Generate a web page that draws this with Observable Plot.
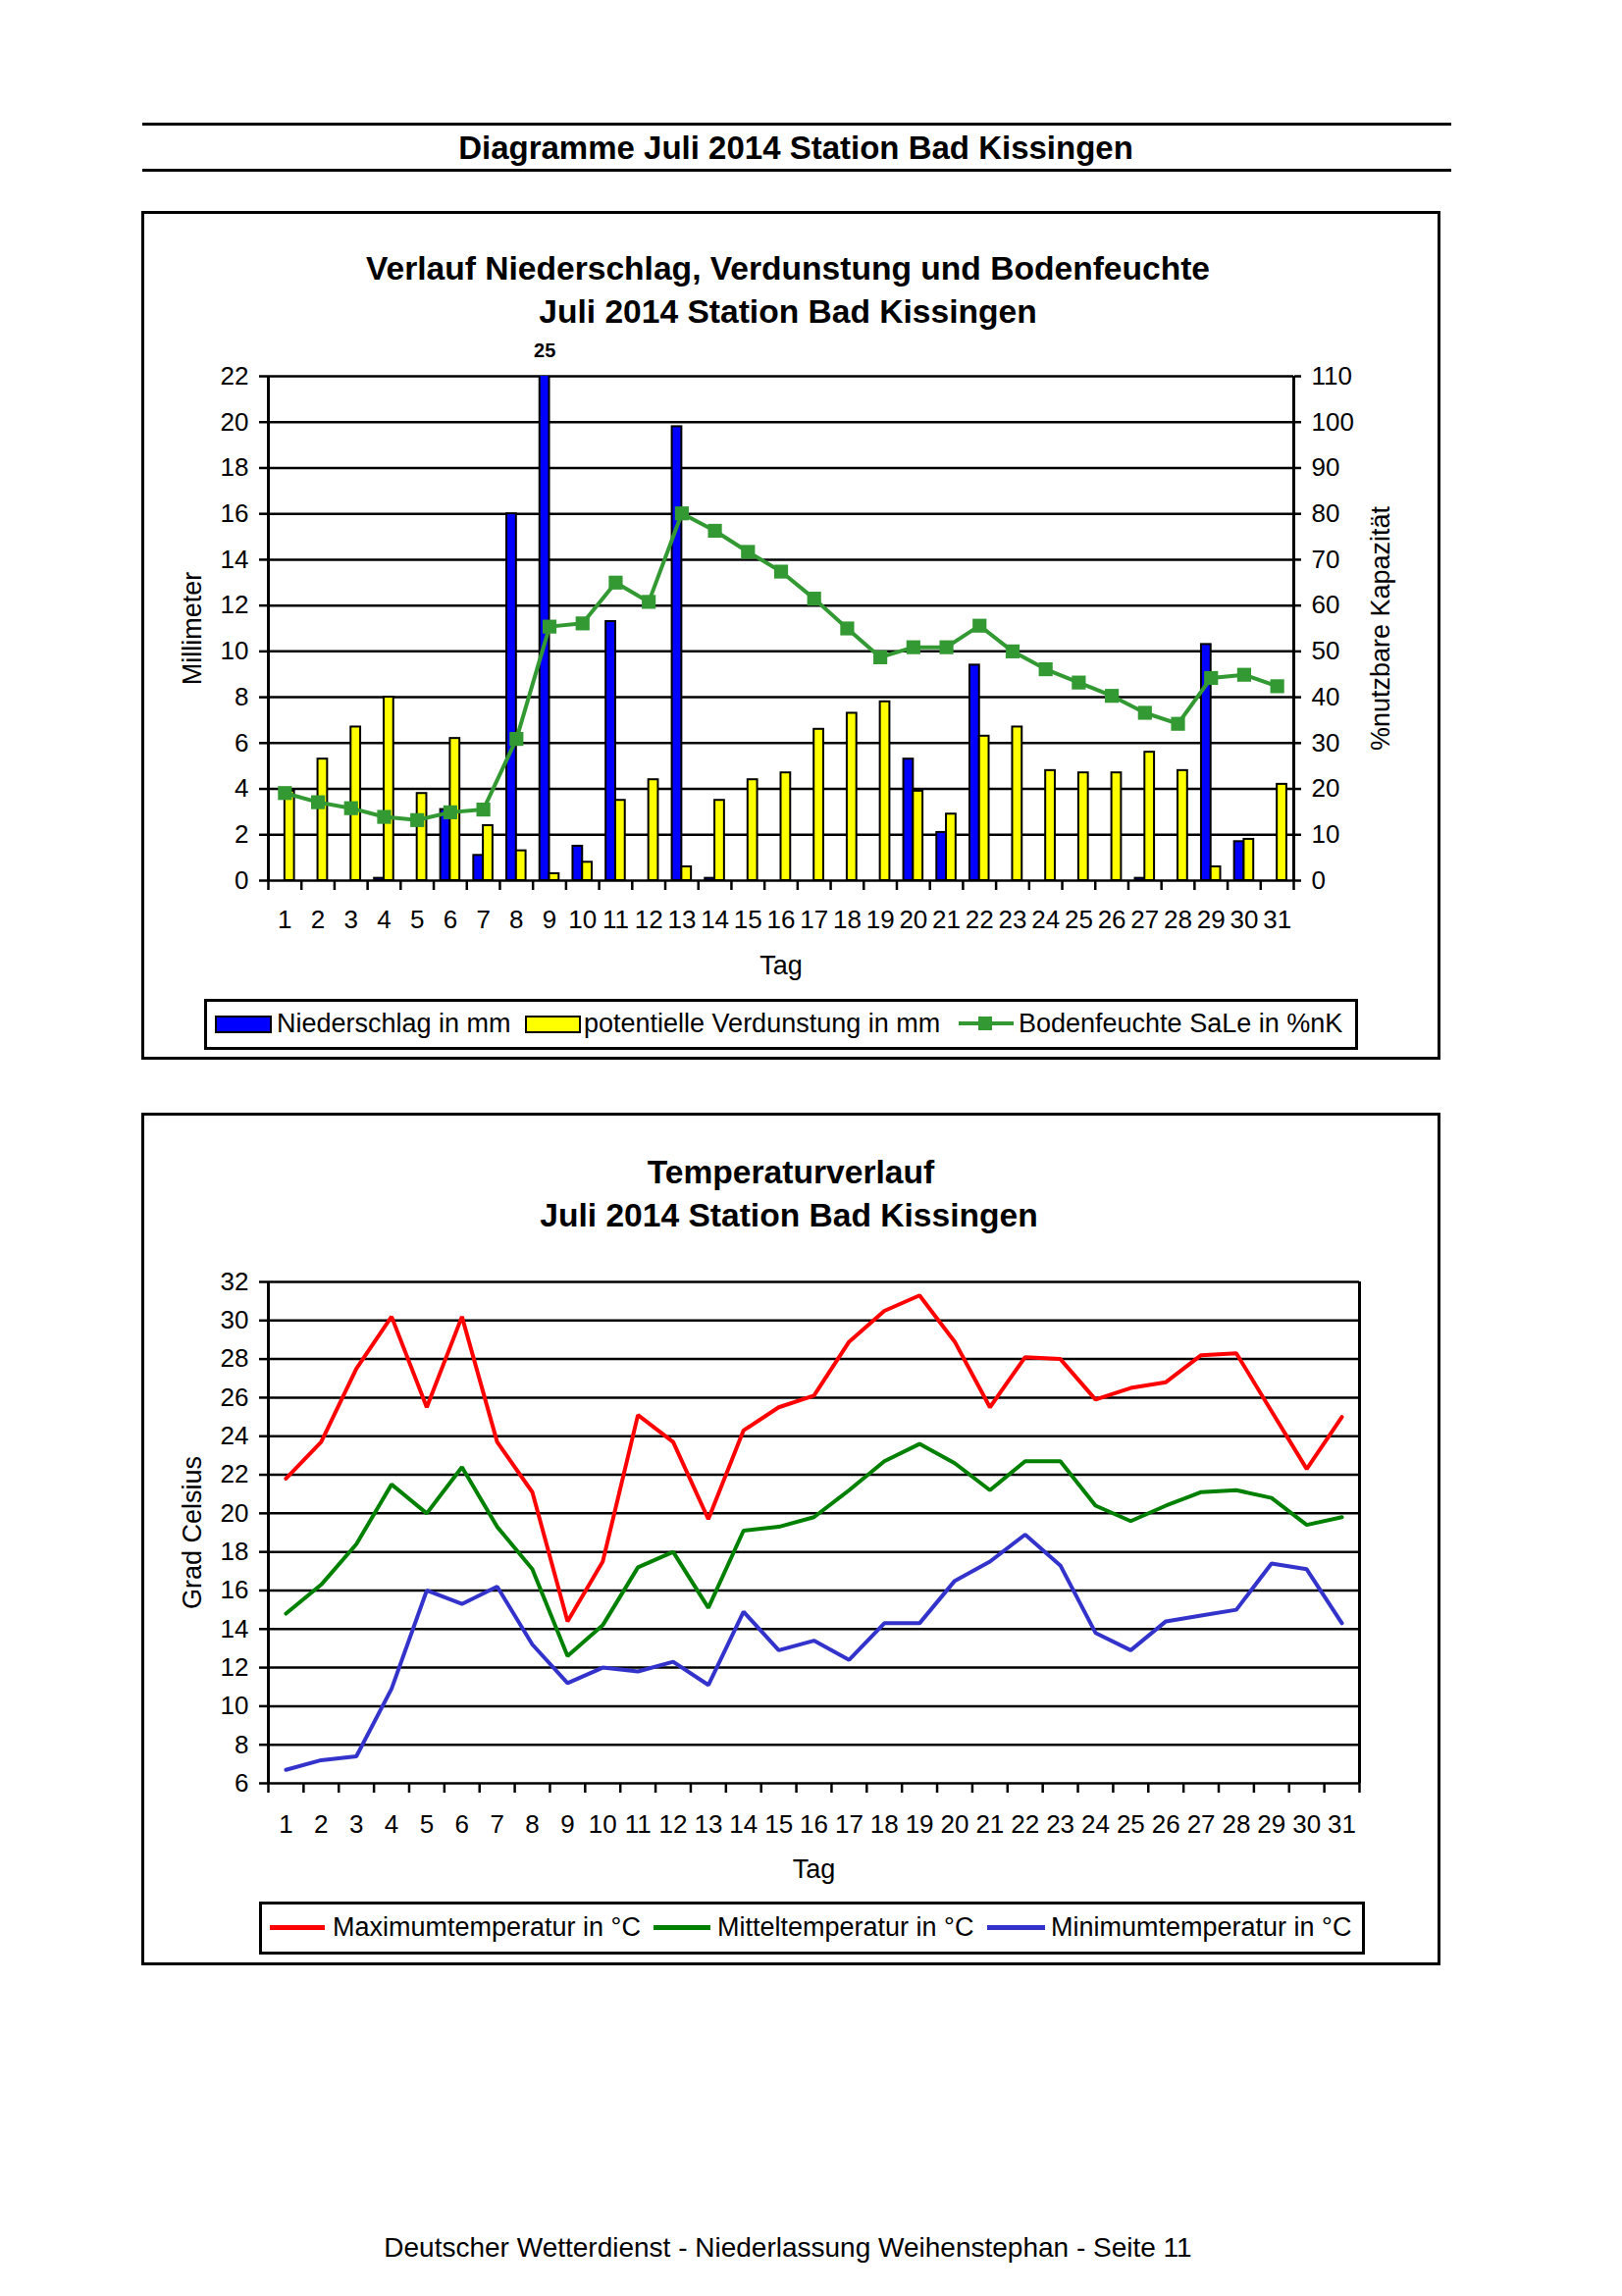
<!DOCTYPE html>
<html lang="de">
<head>
<meta charset="utf-8">
<title>Diagramme Juli 2014 Station Bad Kissingen</title>
<script src="https://cdn.jsdelivr.net/npm/d3@7"></script>
<script src="https://cdn.jsdelivr.net/npm/@observablehq/plot@0.6"></script>
<style>
  html, body { margin: 0; padding: 0; background: #fff; }
  #page { position: relative; width: 1653px; height: 2340px; background: #fff; overflow: hidden;
          font-family: "Liberation Sans", Arial, sans-serif; color: #000; }
  .abs { position: absolute; }
</style>
</head>
<body>
<div id="page"></div>
<script>
// ---------------- DATA ----------------
const days = [1,2,3,4,5,6,7,8,9,10,11,12,13,14,15,16,17,18,19,20,21,22,23,24,25,26,27,28,29,30,31];

// Niederschlag in mm
const niederschlag = [0,0,0,0.1,0,3.1,1.1,16.0,25.0,1.5,11.3,0,19.8,0.1,0,0,0,0,0,5.3,2.1,9.4,0,0,0,0,0.1,0,10.3,1.7,0];
// potentielle Verdunstung in mm
const verdunstung = [3.9,5.3,6.7,8.0,3.8,6.2,2.4,1.3,0.3,0.8,3.5,4.4,0.6,3.5,4.4,4.7,6.6,7.3,7.8,3.9,2.9,6.3,6.7,4.8,4.7,4.7,5.6,4.8,0.6,1.8,4.2];
// Bodenfeuchte SaLe in %nK
const bodenfeuchte = [19.1,17.1,15.8,13.9,13.2,14.9,15.5,30.9,55.4,56.1,65.0,60.8,80.1,76.3,71.7,67.4,61.5,55.0,48.7,50.9,50.9,55.6,50.0,46.1,43.2,40.3,36.6,34.2,44.2,44.9,42.4];

// Temperatures in °C
const tMax = [21.8,23.7,27.5,30.2,25.5,30.2,23.7,21.1,14.4,17.5,25.1,23.7,19.7,24.3,25.5,26.1,28.9,30.5,31.3,28.9,25.5,28.1,28.0,25.9,26.5,26.8,28.2,28.3,25.3,22.3,25.0];
const tMit = [14.8,16.3,18.4,21.5,20.0,22.4,19.3,17.1,12.6,14.2,17.2,18.0,15.1,19.1,19.3,19.8,21.2,22.7,23.6,22.6,21.2,22.7,22.7,20.4,19.6,20.4,21.1,21.2,20.8,19.4,19.8];
const tMin = [6.7,7.2,7.4,10.9,16.0,15.3,16.2,13.2,11.2,12.0,11.8,12.3,11.1,14.9,12.9,13.4,12.4,14.3,14.3,16.5,17.5,18.9,17.3,13.8,12.9,14.4,14.7,15.0,17.4,17.1,14.3];

// Tick values
const mmTicks = [0,2,4,6,8,10,12,14,16,18,20,22];
const tempTicks = [6,8,10,12,14,16,18,20,22,24,26,28,30,32];

// Texts
const pageTitle = "Diagramme Juli 2014 Station Bad Kissingen";
const chart1Title = ["Verlauf Niederschlag, Verdunstung und Bodenfeuchte", "Juli 2014 Station Bad Kissingen"];
const chart2Title = ["Temperaturverlauf", "Juli 2014 Station Bad Kissingen"];
const footer = "Deutscher Wetterdienst - Niederlassung Weihenstephan - Seite 11";

// ---------------- HELPERS ----------------
const FONT = '"Liberation Sans", Arial, sans-serif';
const page = document.getElementById("page");

function addText(txt, {x, cy, size, weight = "normal", align = "center"}) {
  const d = document.createElement("div");
  d.className = "abs";
  d.textContent = txt;
  d.style.whiteSpace = "nowrap";
  d.style.fontSize = size + "px";
  d.style.lineHeight = size + "px";
  d.style.fontWeight = weight;
  d.style.top = (cy - 0.4885 * size) + "px";
  if (align === "center") {
    d.style.left = (x - 1000) + "px";
    d.style.width = "2000px";
    d.style.textAlign = "center";
  } else {
    d.style.left = x + "px";
  }
  page.appendChild(d);
}
function addRect(x1, y1, x2, y2, {fill = "none", border = 0, borderColor = "#000"} = {}) {
  const d = document.createElement("div");
  d.className = "abs";
  d.style.left = x1 + "px"; d.style.top = y1 + "px";
  d.style.width = (x2 - x1) + "px"; d.style.height = (y2 - y1) + "px";
  d.style.boxSizing = "border-box";
  d.style.background = fill;
  if (border) d.style.border = `${border}px solid ${borderColor}`;
  page.appendChild(d);
  return d;
}
function addSvg(svg, left, top, width) {
  const w = document.createElement("div");
  w.className = "abs";
  w.style.left = left + "px"; w.style.top = top + "px"; w.style.width = width + "px";
  w.appendChild(svg);
  page.appendChild(w);
}

// ---------------- PAGE HEADER ----------------
addRect(145, 125, 1479, 128, {fill: "#000"});
addRect(145, 172, 1479, 175, {fill: "#000"});
addText(pageTitle, {x: 811, cy: 150, size: 33, weight: "bold"});

// ---------------- PANEL 1 ----------------
addRect(144, 215, 1468, 1080, {border: 3});
addText(chart1Title[0], {x: 803, cy: 273, size: 33.6, weight: "bold"});
addText(chart1Title[1], {x: 803, cy: 317, size: 33.6, weight: "bold"});

const rows = days.map((day, i) => ({day, n: niederschlag[i], v: verdunstung[i], bf: bodenfeuchte[i]}));
const BW = 0.29;
const boundaries = d3.range(0.5, 32, 1);

const chart1 = Plot.plot({
  width: 1300, height: 680,
  marginLeft: 123, marginRight: 132, marginTop: 53, marginBottom: 113,
  x: {domain: [0.5, 31.5]},
  y: {domain: [0, 22]},
  style: {fontFamily: FONT, fontSize: "26px", color: "black", background: "transparent"},
  marks: [
    Plot.ruleY(mmTicks, {stroke: "black", strokeWidth: 2.5}),
    Plot.ruleX([0.5, 31.5], {stroke: "black", strokeWidth: 3}),
    Plot.rect(rows.filter(d => d.n > 0), {x1: d => d.day - BW, x2: d => d.day, y1: 0, y2: "n",
      fill: "#0000ff", stroke: "black", strokeWidth: 2, clip: true}),
    Plot.rect(rows.filter(d => d.v > 0), {x1: d => d.day, x2: d => d.day + BW, y1: 0, y2: "v",
      fill: "#ffff00", stroke: "black", strokeWidth: 2, clip: true}),
    Plot.line(rows, {x: "day", y: d => d.bf / 5, stroke: "#339933", strokeWidth: 4}),
    Plot.dot(rows, {x: "day", y: d => d.bf / 5, symbol: "square", r: 8, fill: "#339933"}),
    Plot.text(rows.filter(d => d.n > 22), {x: d => d.day - BW / 2, y: 22, dy: -26,
      text: d => d3.format("d")(d.n), fontWeight: "bold", fontSize: 20}),
    Plot.axisY({anchor: "left", ticks: mmTicks, tickSize: 9, tickPadding: 11, strokeWidth: 2.5, fontSize: 26, label: null}),
    Plot.axisY({anchor: "right", ticks: mmTicks, tickSize: 7, tickPadding: 11, strokeWidth: 2.5, fontSize: 26,
      tickFormat: d => d * 5, label: null}),
    Plot.axisX({ticks: boundaries, tickSize: 10, tickFormat: () => "", strokeWidth: 2.5, label: null}),
    Plot.axisX({ticks: days, tickSize: 0, tickPadding: 30, fontSize: 26, label: null}),
    Plot.text(["Millimeter"], {frameAnchor: "left", dx: -77, rotate: -90, text: d => d, fontSize: 27,
      textAnchor: "middle", lineAnchor: "middle"}),
    Plot.text(["%nutzbare Kapazität"], {frameAnchor: "right", dx: 89, rotate: -90, text: d => d, fontSize: 27,
      textAnchor: "middle", lineAnchor: "middle"}),
    Plot.text(["Tag"], {frameAnchor: "bottom", dy: 87, text: d => d, fontSize: 27,
      textAnchor: "middle", lineAnchor: "middle"})
  ]
});
addSvg(chart1, 150, 330, 1300);

// Legend 1
addRect(208, 1018, 1384, 1070, {border: 3});
addRect(219, 1035, 277, 1053, {fill: "#0000ff", border: 2});
addText("Niederschlag in mm", {x: 282, cy: 1043, size: 27, align: "left"});
addRect(535, 1035, 592, 1053, {fill: "#ffff00", border: 2});
addText("potentielle Verdunstung in mm", {x: 595, cy: 1043, size: 27, align: "left"});
addRect(977, 1041, 1033, 1045, {fill: "#339933"});
addRect(997, 1036, 1011, 1050, {fill: "#339933"});
addText("Bodenfeuchte SaLe in %nK", {x: 1038, cy: 1043, size: 27, align: "left"});

// ---------------- PANEL 2 ----------------
addRect(144, 1134, 1468, 2003, {border: 3});
addText(chart2Title[0], {x: 806, cy: 1194, size: 33.6, weight: "bold"});
addText(chart2Title[1], {x: 804, cy: 1238, size: 33.6, weight: "bold"});

const trows = days.map((day, i) => ({day, max: tMax[i], mit: tMit[i], min: tMin[i]}));

const chart2 = Plot.plot({
  width: 1300, height: 660,
  marginLeft: 123, marginRight: 65, marginTop: 36, marginBottom: 113,
  x: {domain: [0.5, 31.5]},
  y: {domain: [6, 32]},
  style: {fontFamily: FONT, fontSize: "26px", color: "black", background: "transparent"},
  marks: [
    Plot.ruleY(tempTicks, {stroke: "black", strokeWidth: 2.5}),
    Plot.ruleX([0.5, 31.5], {stroke: "black", strokeWidth: 3}),
    Plot.line(trows, {x: "day", y: "max", stroke: "#ff0000", strokeWidth: 4, strokeLinejoin: "miter"}),
    Plot.line(trows, {x: "day", y: "mit", stroke: "#008000", strokeWidth: 4, strokeLinejoin: "miter"}),
    Plot.line(trows, {x: "day", y: "min", stroke: "#3333cc", strokeWidth: 4, strokeLinejoin: "miter"}),
    Plot.axisY({anchor: "left", ticks: tempTicks, tickSize: 9, tickPadding: 11, strokeWidth: 2.5, fontSize: 26, label: null}),
    Plot.axisX({ticks: boundaries, tickSize: 10, tickFormat: () => "", strokeWidth: 2.5, label: null}),
    Plot.axisX({ticks: days, tickSize: 0, tickPadding: 32, fontSize: 26, label: null}),
    Plot.text(["Grad Celsius"], {frameAnchor: "left", dx: -77, rotate: -90, text: d => d, fontSize: 27,
      textAnchor: "middle", lineAnchor: "middle"}),
    Plot.text(["Tag"], {frameAnchor: "bottom", dy: 88, text: d => d, fontSize: 27,
      textAnchor: "middle", lineAnchor: "middle"})
  ]
});
addSvg(chart2, 150, 1270, 1300);

// Legend 2
addRect(264, 1938, 1391, 1992, {border: 3});
addRect(275, 1962, 331, 1967, {fill: "#ff0000"});
addText("Maximumtemperatur in °C", {x: 339, cy: 1964, size: 27, align: "left"});
addRect(666, 1962, 724, 1967, {fill: "#008000"});
addText("Mitteltemperatur in °C", {x: 731, cy: 1964, size: 27, align: "left"});
addRect(1006, 1962, 1065, 1967, {fill: "#3333cc"});
addText("Minimumtemperatur in °C", {x: 1071, cy: 1964, size: 27, align: "left"});

// ---------------- FOOTER ----------------
addText(footer, {x: 803, cy: 2291, size: 28});
</script>
</body>
</html>
